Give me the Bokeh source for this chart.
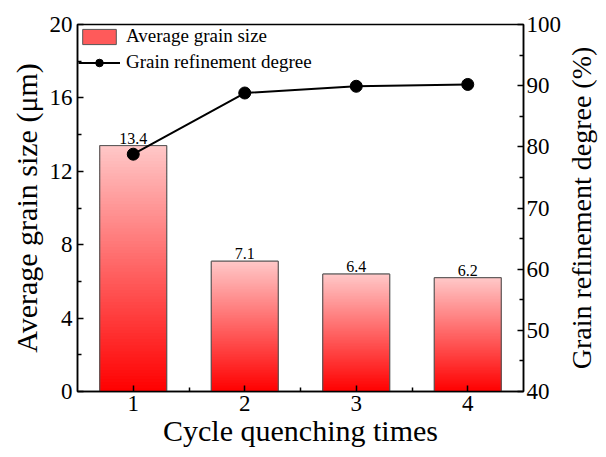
import math
from bokeh.plotting import figure
from bokeh.layouts import row
from bokeh.models import (Range1d, LinearAxis, FixedTicker, Legend, LegendItem)
from bokeh.embed import file_html
from bokeh.resources import INLINE

# ---- data ----
cycles = [1, 2, 3, 4]
grain_size = [13.4, 7.1, 6.4, 6.2]
size_labels = ["13.4", "7.1", "6.4", "6.2"]
refinement = [78.8, 88.8, 89.9, 90.2]
left_ticks = [0, 4, 8, 12, 16, 20]
left_minor = [2, 6, 10, 14, 18]
right_ticks = [40, 50, 60, 70, 80, 90, 100]
right_minor = [45, 55, 65, 75, 85, 95]
x_ticks = [1, 2, 3, 4]
x_minor = [1.5, 2.5, 3.5]
x_title = "Cycle quenching times"
left_title = "Average grain size (μm)"
right_title = "Grain refinement degree (%)"

FONT = "Liberation Serif"
BAR_W = 0.6
N_SLICES = 80
TOP_RGB = (255, 200, 200)
BOT_RGB = (255, 0, 0)
TOTAL_W, TOTAL_H = 598, 449
SIDE_W = 34
BORDER_TOP, BORDER_BOTTOM = 24, 57

p = figure(width=TOTAL_W - SIDE_W, height=TOTAL_H, output_backend="svg",
           toolbar_location=None,
           x_range=Range1d(0.5, 4.5), y_range=Range1d(0, 20),
           min_border_top=BORDER_TOP, min_border_left=77, min_border_right=30,
           min_border_bottom=BORDER_BOTTOM)
p.extra_y_ranges = {"right": Range1d(40, 100)}
p.xgrid.visible = False
p.ygrid.visible = False
p.outline_line_color = "black"
p.outline_line_width = 1.5
p.background_fill_color = "white"
p.border_fill_color = "white"

# base bars (legend proxy, covered by the gradient)
base = p.vbar(x=cycles, top=grain_size, width=BAR_W, fill_color="#ff5a5a",
              line_color="#555555", line_width=1)

# gradient bars: slices derived from each bar value
xs, bottoms, tops, colors = [], [], [], []
for x, v in zip(cycles, grain_size):
    for i in range(N_SLICES):
        f0 = i / N_SLICES
        f1 = min((i + 1) / N_SLICES + 0.01, 1.0)
        fm = (i + 0.5) / N_SLICES
        r = round(BOT_RGB[0] + (TOP_RGB[0] - BOT_RGB[0]) * fm)
        g = round(BOT_RGB[1] + (TOP_RGB[1] - BOT_RGB[1]) * fm)
        b = round(BOT_RGB[2] + (TOP_RGB[2] - BOT_RGB[2]) * fm)
        xs.append(x)
        bottoms.append(v * f0)
        tops.append(v * f1)
        colors.append("#%02x%02x%02x" % (r, g, b))
p.vbar(x=xs, bottom=bottoms, top=tops, width=BAR_W, fill_color=colors,
       line_color=None)
# bar outlines
p.vbar(x=cycles, top=grain_size, width=BAR_W, fill_alpha=0,
       line_color="#555555", line_width=1)

# value labels
p.text(x=cycles, y=grain_size, text=size_labels, text_align="center",
       text_baseline="bottom", y_offset=-2, text_font=FONT,
       text_font_size="16px", text_color="black")

# refinement line
ln = p.line(x=cycles, y=refinement, y_range_name="right", line_color="black",
            line_width=2)
sc = p.scatter(x=cycles, y=refinement, y_range_name="right", size=12,
               fill_color="black", line_color="black")

# axes
def style_axis(ax):
    ax.axis_line_color = "black"
    ax.axis_line_width = 1.5
    ax.major_tick_line_color = "black"
    ax.minor_tick_line_color = "black"
    ax.major_tick_line_width = 1.5
    ax.minor_tick_line_width = 1.5
    ax.major_tick_in = 6
    ax.major_tick_out = 0
    ax.minor_tick_in = 4
    ax.minor_tick_out = 0
    ax.major_label_text_font = FONT
    ax.major_label_text_font_size = "23px"
    ax.major_label_text_color = "black"
    ax.axis_label_text_font = FONT
    ax.axis_label_text_font_size = "30px"
    ax.axis_label_text_font_style = "normal"
    ax.axis_label_text_color = "black"
    ax.major_label_standoff = 5
    ax.axis_label_standoff = 4

xa = p.xaxis[0]
style_axis(xa)
xa.ticker = FixedTicker(ticks=x_ticks, minor_ticks=x_minor)
xa.axis_label = x_title
xa.axis_label_standoff = 0
xa.major_label_standoff = 4

ya = p.yaxis[0]
style_axis(ya)
ya.ticker = FixedTicker(ticks=left_ticks, minor_ticks=left_minor)
ya.axis_label = left_title

ra = LinearAxis(y_range_name="right")
style_axis(ra)
ra.major_label_standoff = 3
ra.ticker = FixedTicker(ticks=right_ticks, minor_ticks=right_minor)
p.add_layout(ra, "right")

legend = Legend(items=[
    LegendItem(label="Average grain size", renderers=[base]),
    LegendItem(label="Grain refinement degree", renderers=[ln, sc]),
], location="top_left")
legend.margin = 1
legend.padding = 6
legend.spacing = 4
legend.glyph_width = 42
legend.glyph_height = 19
legend.label_height = 20
legend.label_standoff = 6
legend.label_text_font = FONT
legend.label_text_font_size = "19px"
legend.label_text_color = "black"
legend.border_line_color = None
legend.background_fill_alpha = 0
p.add_layout(legend)

# side strip holding the right axis title, reading bottom-to-top
side = figure(width=SIDE_W, height=TOTAL_H, output_backend="svg",
              toolbar_location=None, x_range=Range1d(0, 1),
              y_range=Range1d(40, 100),
              min_border_top=BORDER_TOP, min_border_bottom=BORDER_BOTTOM,
              min_border_left=0, min_border_right=0)
side.axis.visible = False
side.xgrid.visible = False
side.ygrid.visible = False
side.outline_line_color = None
side.background_fill_color = "white"
side.border_fill_color = "white"
side.text(x=[0.5], y=[70], text=[right_title], angle=math.pi / 2,
          text_align="center", text_baseline="middle", text_font=FONT,
          text_font_size="28px", text_color="black")

layout = row(p, side)
open("out.html", "w").write(file_html(layout, INLINE))
